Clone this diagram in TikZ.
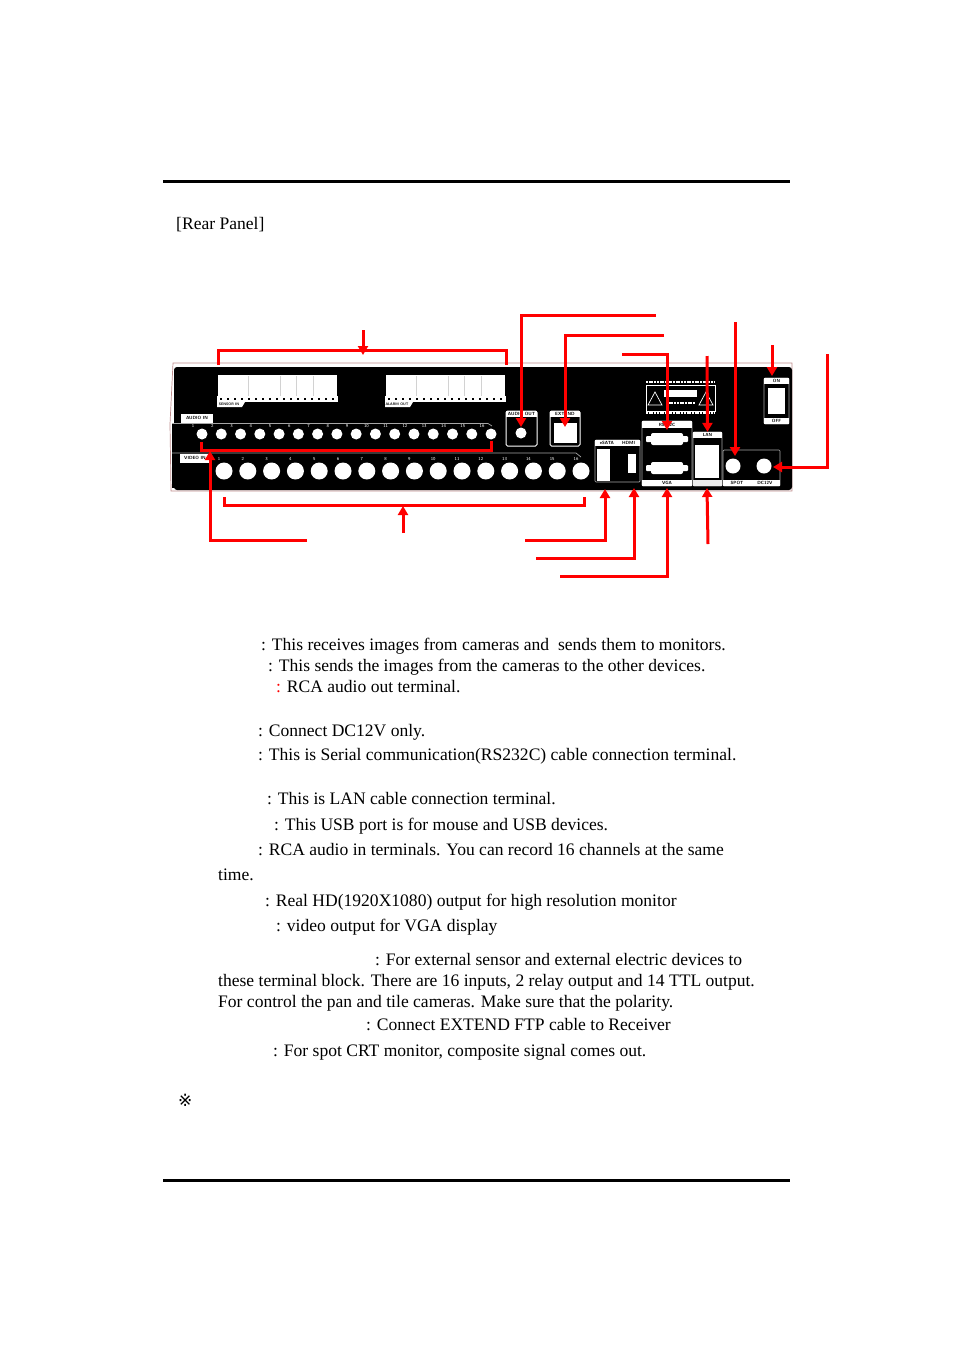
\documentclass[tikz,border=0pt]{standalone}
\usepackage{fontspec}
\usetikzlibrary{arrows.meta}
\setmainfont{Liberation Serif}
\newfontfamily\symfont{DejaVu Sans}
\definecolor{arrowred}{RGB}{255,0,0}
\definecolor{rimcolor}{RGB}{190,140,140}
\tikzset{
  pagetext/.style={anchor=base west,inner sep=0pt,font=\fontsize{17.55}{20}\selectfont},
  redline/.style={draw=arrowred,line width=3pt,line join=miter},
  arrowline/.style={redline,-{Triangle[length=9pt,width=10pt]}},
  tag/.style={fill=white,text=black,inner sep=0pt,font=\sffamily\bfseries\fontsize{4.5}{5}\selectfont},
  num/.style={text=white,inner sep=0pt,font=\sffamily\fontsize{4.5}{5}\selectfont},
  jack/.style={circle,fill=white,inner sep=0pt,minimum size=#1},
  portbox/.style={draw=white,line width=1pt,rounded corners=1.5pt},
  thinbox/.style={draw=gray!70,line width=.7pt,rounded corners=1pt},
  whitepart/.style={fill=white}
}
\begin{document}
\begin{tikzpicture}[x=1pt,y=-1pt]
    \useasboundingbox (0,0) rectangle (954,1350);
    \draw[line width=3pt] (163,181) -- (790,181);
    \draw[line width=3pt] (163,1180) -- (790,1180);
    \node[pagetext] at (176,229) (title) {[Rear Panel]};

    \draw[draw=rimcolor,line width=.7pt] (173,363) -- (792,363) -- (792,491) -- (171,491) -- (170,424) -- cycle;
    \fill[rounded corners=3pt] (174,367) rectangle (792,490);
    \fill (172,424) rectangle (180,488);
    \draw[gray!70,line width=.7pt] (172,423.5) -- (488,423.5) -- (492,426);
    \draw[gray!70,line width=.7pt] (172,453) -- (576,453) -- (581,457);

    \foreach \x in {218,386} {
      \fill[white] (\x,375) rectangle +(119,24);
      \fill[white] (\x-1,396) rectangle +(121,6);
      \foreach \d in {30,62,78,95} \draw[gray!35,line width=.5pt] (\x+\d,376) -- +(0,20);
      \foreach \d in {2,9,...,114} \fill[black] (\x+\d,398) rectangle +(2,2);
      \fill[white] (\x-1,402) -- (\x+27,402) -- (\x+24,407) -- (\x-1,407) -- cycle;
    }
    \node[tag,fill=none,font=\sffamily\bfseries\fontsize{3.6}{4}\selectfont] at (229,404.5) (sensortag) {SENSOR IN};
    \node[tag,fill=none,font=\sffamily\bfseries\fontsize{3.6}{4}\selectfont] at (397,404.5) (alarmtag) {ALARM OUT};

    \node[tag,minimum width=32,minimum height=9] at (197,418) (audiotag) {AUDIO IN};
    \node[tag,minimum width=30,minimum height=9] at (195,458) (videotag) {VIDEO IN};

    \foreach \i in {1,...,16} {
      \node[jack=11pt] at ({202+(\i-1)*19.27},434) (audio\i) {};
      \node[num] at ({193+(\i-1)*19.27},426) (audionum\i) {\i};
      \node[jack=17pt] at ({224+(\i-1)*23.8},471) (video\i) {};
      \node[num] at ({219+(\i-1)*23.8},459) (videonum\i) {\i};
    }

    \draw[portbox] (506,411) rectangle (537,446);
    \node[tag,minimum width=31,minimum height=6] at (521.5,414) (aouttag) {AUDIO OUT};
    \node[jack=11pt] at (521,433) (aout) {};

    \draw[portbox] (550,411) rectangle (580,446);
    \node[tag,minimum width=30,minimum height=6] at (565,414) (exttag) {EXTEND};
    \fill[whitepart] (554,423) rectangle (577,443);

    \draw[thinbox] (595,440) rectangle (640,482);
    \node[tag,minimum width=45,minimum height=6] at (617.5,443) (satatag) {eSATA\hspace{8pt}HDMI};
    \fill[whitepart] (597,449) rectangle (610,481);
    \fill[whitepart] (628,454) rectangle (636,473);

    \draw[thinbox] (642,421) rectangle (692,486);
    \node[tag,minimum width=50,minimum height=7] at (667,424.5) (rstag) {RS232C};
    \node[tag,minimum width=50,minimum height=6] at (667,483) (vgatag) {VGA};
    \foreach \y in {439,468} {
      \fill[whitepart,rounded corners=2pt] (651,\y-6) rectangle (683,\y+6);
      \fill[whitepart,rounded corners=1pt] (646,\y-3) rectangle (688,\y+3);
    }

    \draw[thinbox] (693,432) rectangle (722,486);
    \node[tag,minimum width=29,minimum height=6] at (707.5,435) (lantag) {LAN};
    \fill[whitepart] (695,445) rectangle (719,478);
    \fill[gray!15] (693,480) rectangle (722,486);

    \draw[thinbox] (723,450) rectangle (780,486);
    \node[tag,minimum width=57,minimum height=6] at (751.5,483) (spottag) {SPOT\hspace{14pt}DC12V};
    \node[jack=15pt] at (733,466) (spot) {};
    \node[jack=15pt] at (764,466) (dcin) {};

    \draw[thinbox] (764,378) rectangle (789,424);
    \node[tag,minimum width=25,minimum height=6] at (776.5,381) (ontag) {ON};
    \node[tag,minimum width=25,minimum height=6] at (776.5,421) (offtag) {OFF};
    \fill[whitepart] (768,388) rectangle (785,414);

    \draw[white,line width=.6pt] (646,385) rectangle (715,411);
    \draw[white,line width=1.5pt,dash pattern=on 2pt off .7pt] (646,382) -- (715,382);
    \draw[white,line width=1.5pt,dash pattern=on 2pt off .7pt] (646,413) -- (715,413);
    \draw[white,line width=1.5pt,dash pattern=on 2pt off .7pt] (666,403) -- (695,403);
    \foreach \x in {655,706} \draw[white,line width=.7pt] (\x-7,405) -- (\x,392) -- (\x+7,405) -- cycle;
    \fill[white] (664,390) rectangle (697,397);

    \coordinate (senstop) at (363,330);
    \coordinate (senstip) at (363,355);
    \draw[arrowline] (senstop) -- (senstip);
    \coordinate (sensa) at (218,365);
    \coordinate (sensb) at (506,365);
    \draw[redline] (sensa) |- (363,350) -| (sensb);

    \coordinate (aoutfree) at (656,315);
    \coordinate (aouttip) at (521,427);
    \draw[arrowline] (aoutfree) -| (aouttip);
    \coordinate (extfree) at (664,335);
    \coordinate (exttip) at (565,427);
    \draw[arrowline] (extfree) -| (exttip);
    \coordinate (rsfree) at (622,354);
    \coordinate (rstip) at (667,430);
    \draw[arrowline] (rsfree) -| (rstip);
    \coordinate (lanfree) at (707,356);
    \draw[arrowline] (lanfree) -- (lantag.north);
    \coordinate (spotfree) at (735,322);
    \coordinate (spottip) at (735,456);
    \draw[arrowline] (spotfree) -- (spottip);
    \coordinate (onfree) at (772,345);
    \coordinate (ontip) at (772,376);
    \draw[arrowline] (onfree) -- (ontip);
    \coordinate (dcfree) at (827,354);
    \coordinate (dctip) at (773,467);
    \draw[arrowline] (dcfree) |- (dctip);

    \coordinate (videofree) at (403,533);
    \coordinate (videotip) at (403,506);
    \draw[arrowline] (videofree) -- (videotip);
    \coordinate (videoa) at (224,497);
    \coordinate (videob) at (584,497);
    \draw[redline] (videoa) |- (403,505) -| (videob);

    \coordinate (audiofree) at (307,540);
    \coordinate (audiotip) at (210,451);
    \draw[arrowline] (audiofree) -| (audiotip);
    \coordinate (audioa) at (201,442);
    \coordinate (audiob) at (491,441);
    \draw[redline] (audioa) |- (346,450) -| (audiob);

    \coordinate (satafree) at (525,540);
    \coordinate (satatip) at (605,489);
    \draw[arrowline] (satafree) -| (satatip);
    \coordinate (hdmifree) at (536,558);
    \coordinate (hdmitip) at (634,488);
    \draw[arrowline] (hdmifree) -| (hdmitip);
    \coordinate (vgafree) at (560,576);
    \coordinate (vgatip) at (667,488);
    \draw[arrowline] (vgafree) -| (vgatip);
    \coordinate (usbfree) at (708,544);
    \coordinate (usbtip) at (707,488);
    \draw[arrowline] (usbfree) -- (usbtip);

    \node[pagetext] at (261,650) (line1) {: This receives images from cameras and \ sends them to monitors.};
    \node[pagetext] at (268,671) (line2) {: This sends the images from the cameras to the other devices.};
    \node[pagetext] at (276,692) (line3) {\textcolor{arrowred}{:} RCA audio out terminal.};
    \node[pagetext] at (258,736) (line4) {: Connect DC12V only.};
    \node[pagetext] at (258,760) (line5) {: This is Serial communication(RS232C) cable connection terminal.};
    \node[pagetext] at (267,804) (line6) {: This is LAN cable connection terminal.};
    \node[pagetext] at (274,830) (line7) {: This USB port is for mouse and USB devices.};
    \node[pagetext] at (258,855) (line8) {: RCA audio in terminals. You can record 16 channels at the same};
    \node[pagetext] at (218,880) (line9) {time.};
    \node[pagetext] at (265,906) (line10) {: Real HD(1920X1080) output for high resolution monitor};
    \node[pagetext] at (276,931) (line11) {: video output for VGA display};
    \node[pagetext] at (375,965) (line12) {: For external sensor and external electric devices to};
    \node[pagetext] at (218,986) (line13) {these terminal block. There are 16 inputs, 2 relay output and 14 TTL output.};
    \node[pagetext] at (218,1007) (line14) {For control the pan and tile cameras. Make sure that the polarity.};
    \node[pagetext] at (366,1030) (line15) {: Connect EXTEND FTP cable to Receiver};
    \node[pagetext] at (273,1056) (line16) {: For spot CRT monitor, composite signal comes out.};
    \node[pagetext,font=\symfont\fontsize{17}{18}\selectfont] at (178,1106) (note) {※};
\end{tikzpicture}
\end{document}
